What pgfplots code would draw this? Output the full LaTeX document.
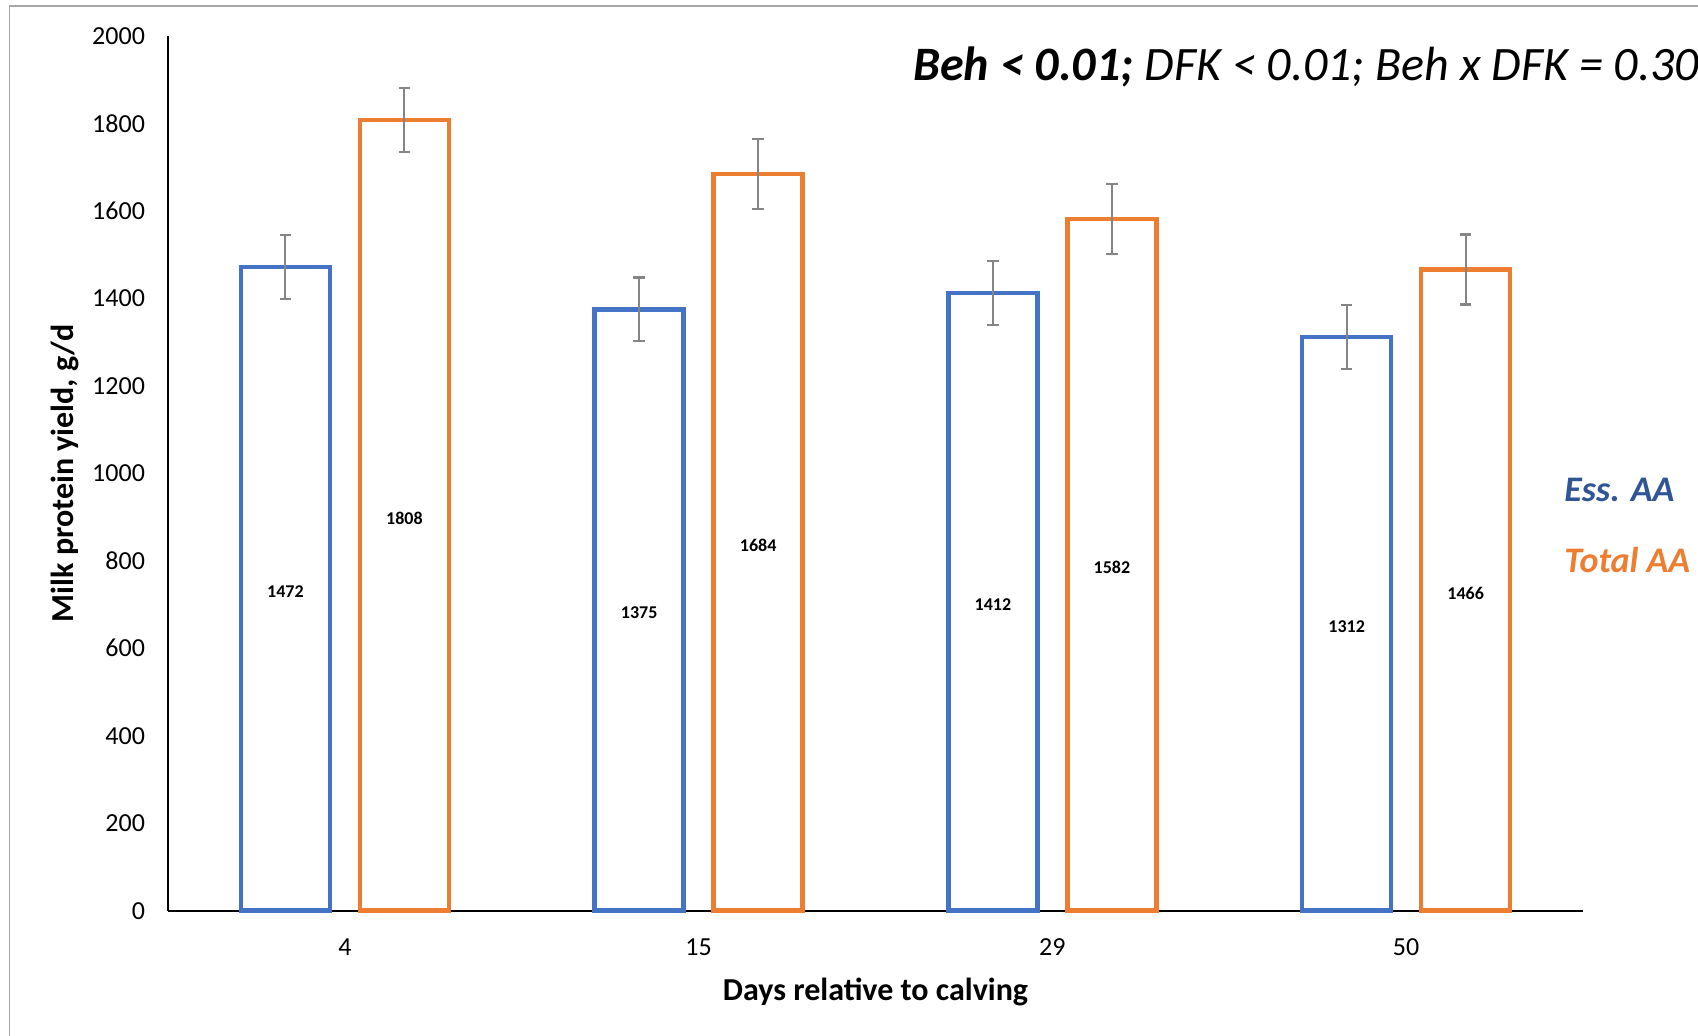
\documentclass[border=0pt]{standalone}
\usepackage{pgfplots}
\usepackage{pgfplotstable}
\pgfplotsset{compat=1.18}
\usepackage{fontspec}
\setmainfont{Carlito}

\definecolor{essblue}{HTML}{4472C4}
\definecolor{totorange}{HTML}{ED7D31}
\definecolor{esstext}{HTML}{2F5597}
\definecolor{errgray}{HTML}{858585}
\definecolor{framegray}{HTML}{A6A6A6}

% Milk protein yield (g/d) by day relative to calving, with SE
\pgfplotstableread{
x ess esserr tot toterr
0 1472 73 1808 73
1 1375 73 1684 80
2 1412 73 1582 80
3 1312 73 1466 80
}\yielddata

\begin{document}
\begin{tikzpicture}[x=1pt,y=1pt]
\useasboundingbox (0,0) rectangle (849,518);
\draw[framegray, line width=0.75pt] (4.75,-2) -- (4.75,515) -- (860,515);
\begin{axis}[
  at={(84pt,62.65pt)}, anchor=south west,
  scale only axis, width=707.5pt, height=437.35pt,
  xmin=-0.5, xmax=3.5, ymin=0, ymax=2000,
  xtick={0,1,2,3}, xticklabels={4,15,29,50},
  ytick={0,200,...,2000},
  axis x line*=bottom, axis y line*=left,
  axis line style={line width=1pt, black, -},
  major tick length=0pt,
  tick label style={font=\fontsize{13}{15}\selectfont},
  /pgf/number format/assume math mode=true,
  /pgf/number format/1000 sep={},
  yticklabel style={xshift=-8pt},
  xticklabel style={yshift=-10.5pt},
  xlabel={Days relative to calving},
  ylabel={Milk protein yield, g/d},
  every axis x label/.style={at={(axis description cs:0.5,-0.0932)}, anchor=center,
    font=\bfseries\fontsize{16}{19}\selectfont},
  every axis y label/.style={at={(axis description cs:-0.0728,0.5)}, rotate=90, anchor=center,
    font=\bfseries\fontsize{16}{19}\selectfont},
  clip=false,
  error bars/y dir=both, error bars/y explicit,
  error bars/error bar style={errgray, line width=1.1pt},
  error bars/error mark options={rotate=90, errgray, mark size=2.9pt, line width=1.1pt},
  bar value/.style={draw=none, mark=none, point meta=explicit, error bars/y dir=none,
    nodes near coords={\pgfmathprintnumber[fixed,precision=0,1000 sep={}]{\pgfplotspointmeta}},
    every node near coord/.append style={anchor=center, inner sep=0pt, black, yshift=-1.5pt,
      font=\bfseries\fontsize{9}{11}\selectfont}},
]
% bars sit 0.1682 axis units either side of each day
\addplot[ybar, bar width=44.5pt, bar shift=0pt, draw=essblue, line width=2.25pt, fill=white]
  table[x expr=\thisrow{x}-0.1682, y=ess, y error=esserr] {\yielddata};
\addplot[ybar, bar width=44.5pt, bar shift=0pt, draw=totorange, line width=2.25pt, fill=white]
  table[x expr=\thisrow{x}+0.1682, y=tot, y error=toterr] {\yielddata};
% value labels at mid-height of each bar
\addplot[bar value] table[x expr=\thisrow{x}-0.1682, y expr=\thisrow{ess}/2, meta=ess] {\yielddata};
\addplot[bar value] table[x expr=\thisrow{x}+0.1682, y expr=\thisrow{tot}/2, meta=tot] {\yielddata};
\end{axis}
\node[anchor=base west, inner sep=0pt, font=\itshape\fontsize{24}{28}\selectfont]
  at (456.5,477.5) {{\bfseries Beh < 0.01;} DFK < 0.01; Beh x DFK = 0.30};
\node[anchor=base west, inner sep=0pt, text=esstext, font=\bfseries\itshape\fontsize{18}{22}\selectfont]
  at (782,267) {Ess. AA};
\node[anchor=base west, inner sep=0pt, text=totorange, font=\bfseries\itshape\fontsize{18}{22}\selectfont]
  at (782,231.5) {Total AA};
\end{tikzpicture}
\end{document}
